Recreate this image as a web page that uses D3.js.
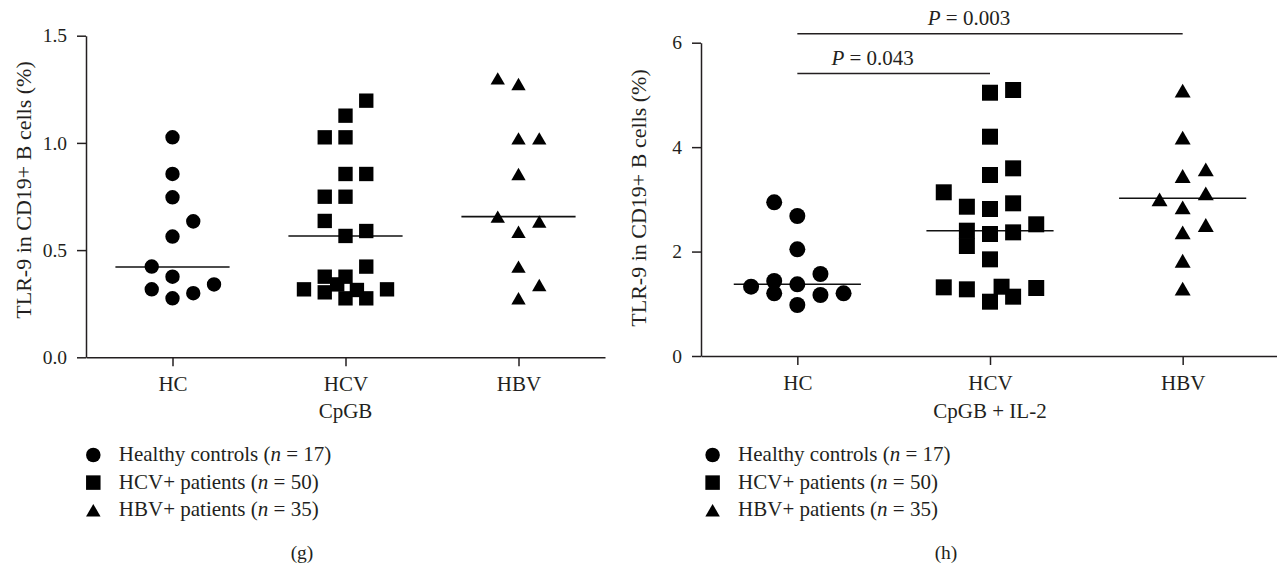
<!DOCTYPE html>
<html><head><meta charset="utf-8">
<script src="https://cdn.jsdelivr.net/npm/d3@7"></script>
<style>
body{margin:0;background:#fff;}
svg text{font-family:"Liberation Serif","Times New Roman",serif;fill:#231f20;}
</style></head><body>
<svg id="chart" width="1277" height="566"></svg>
<script>
// ---------- DATA ----------
const groups = ["HC", "HCV", "HBV"];
const legendNames = ["Healthy controls", "HCV+ patients", "HBV+ patients"];
const legendN = [17, 50, 35];

// Panel (g): CpGB
const gTicks = [0, 0.5, 1.0, 1.5];
const gHC     = [1.026, 0.855, 0.746, 0.634, 0.563, 0.423, 0.376, 0.317, 0.275, 0.299, 0.340];
const gHCslot = [0, 0, 0, 1, 0, -1, 0, -1, 0, 1, 2];
const gHCV     = [1.197, 1.127, 1.026, 1.026, 0.855, 0.855, 0.749, 0.749, 0.636, 0.566, 0.589, 0.423, 0.376, 0.376, 0.303, 0.340, 0.314, 0.275, 0.275, 0.317, 0.317];
const gHCVslot = [1, 0, -1, 0, 0, 1, -1, 0, -1, 0, 1, 1, -1, 0, -1, -0.4, 0.55, 0, 1, 2, -2];
const gHBV     = [1.301, 1.275, 1.021, 1.021, 0.855, 0.656, 0.633, 0.586, 0.423, 0.337, 0.275];
const gHBVslot = [-1, 0, 0, 1, 0, -1, 1, 0, 0, 1, 0];
const gMedians = [0.421, 0.566, 0.656];

// Panel (h): CpGB + IL-2
const hTicks = [0, 2, 4, 6];
const hHC     = [2.943, 2.681, 2.043, 1.570, 1.436, 1.327, 1.373, 1.200, 1.168, 1.200, 0.977];
const hHCslot = [-1, 0, 0, 1, -1, -2, 0, -1, 1, 2, 0];
const hHCV     = [5.042, 5.094, 4.200, 3.466, 3.594, 3.135, 2.859, 2.815, 2.924, 2.522, 2.400, 2.336, 2.368, 2.106, 1.851, 1.315, 1.277, 1.327, 1.136, 1.040, 1.302];
const hHCVslot = [0, 1, 0, 0, 1, -2, -1, 0, 1, 2, -1, 0, 1, -1, 0, -2, -1, 0.5, 1, 0, 2];
const hHBV     = [5.081, 4.181, 3.447, 3.575, 3.000, 3.115, 2.847, 2.509, 2.368, 1.825, 1.289];
const hHBVslot = [0, 0, 0, 1, -1, 1, 0, 1, 0, 0, 0];
const hMedians = [1.373, 2.400, 3.020];
const hCompFrom = ["HC", "HC"];
const hCompTo = ["HCV", "HBV"];
const hCompLevel = [5.41, 6.17];
const hCompP = ["0.043", "0.003"];

// ---------- DRAW ----------
const svg = d3.select("#chart");
const shapes = [d3.symbolCircle, d3.symbolSquare, d3.symbolTriangle];
function area(shape, d) {
  if (shape === d3.symbolCircle) return Math.PI * d * d / 4;
  if (shape === d3.symbolSquare) return d * d;
  return Math.sqrt(3) / 4 * d * d;
}
function shapeDy(shape, d) { return shape === d3.symbolTriangle ? (Math.sqrt(3) / 2 * d) / 6 : 0; }

function panel(cfg) {
  const x = d3.scalePoint().domain(groups).range(cfg.xr).padding(0.5);
  const y = d3.scaleLinear().domain(cfg.ydom).range(cfg.yr);
  const step = x.step();
  const g = svg.append("g");

  // axes
  const ya = g.append("g").attr("transform", `translate(${cfg.xr[0]},0)`)
    .call(d3.axisLeft(y).tickValues(cfg.ticks).tickFormat(cfg.fmt).tickSize(9).tickPadding(10).tickSizeOuter(0));
  ya.select(".domain").attr("stroke", "#231f20").attr("stroke-width", 1.5);
  ya.selectAll(".tick line").attr("stroke", "#231f20").attr("stroke-width", 1.5);
  ya.selectAll(".tick text").style("font-size", "19.5px").attr("fill", "#231f20").attr("font-family", null);

  const xa = g.append("g").attr("transform", `translate(0,${cfg.yr[0]})`)
    .call(d3.axisBottom(x).tickSize(9).tickPadding(10).tickSizeOuter(0));
  xa.select(".domain").attr("stroke", "#231f20").attr("stroke-width", 1.5);
  xa.selectAll(".tick line").attr("stroke", "#231f20").attr("stroke-width", 1.5);
  xa.selectAll(".tick text").style("font-size", "21px").attr("fill", "#231f20").attr("font-family", null);

  // axis titles
  g.append("text").attr("transform", `translate(${cfg.xr[0] - 63},${cfg.ylabY}) rotate(-90)`)
    .attr("text-anchor", "middle").attr("dy", "0.35em").style("font-size", "22px")
    .text("TLR-9 in CD19+ B cells (%)");
  g.append("text").attr("x", x(groups[1])).attr("y", 418).attr("text-anchor", "middle")
    .style("font-size", "21px").text(cfg.xlabel);

  // medians
  g.selectAll("line.med").data(cfg.medians).join("line").attr("class", "med")
    .attr("x1", (d, i) => x(groups[i]) - step * 0.33).attr("x2", (d, i) => x(groups[i]) + step * 0.33)
    .attr("y1", d => y(d)).attr("y2", d => y(d)).attr("stroke", "#111").attr("stroke-width", 1.6);

  // points
  const slotW = step * 0.12, mk = step * 0.083;
  cfg.series.forEach((s, gi) => {
    const shape = shapes[gi];
    const sym = d3.symbol().type(shape).size(area(shape, mk));
    const dy = shapeDy(shape, mk);
    g.append("g").selectAll("path").data(s.v.map((v, i) => ({ v, slot: s.slot[i] }))).join("path")
      .attr("d", sym)
      .attr("transform", d => `translate(${x(groups[gi]) + d.slot * slotW},${y(d.v) + dy})`)
      .attr("fill", "#000");
  });

  // comparisons
  (cfg.comps || []).forEach(c => {
    const x1 = x(c.from), x2 = x(c.to), yy = y(c.level);
    g.append("line").attr("x1", x1).attr("x2", x2).attr("y1", yy).attr("y2", yy)
      .attr("stroke", "#231f20").attr("stroke-width", 1.5);
    const t = g.append("text").attr("x", (x1 + x2) / 2 - 21).attr("y", yy - 9)
      .attr("text-anchor", "middle").style("font-size", "21px");
    t.append("tspan").attr("font-style", "italic").text("P");
    t.append("tspan").text(" = " + c.p);
  });

  // legend
  legendNames.forEach((name, i) => {
    const ly = 455 + i * 27.6;
    const shape = shapes[i], d = 14.5;
    g.append("path").attr("d", d3.symbol().type(shape).size(area(shape, d)))
      .attr("transform", `translate(${cfg.legX},${ly + shapeDy(shape, d)})`).attr("fill", "#000");
    const t = g.append("text").attr("x", cfg.legX + 25.5).attr("y", ly + 6).style("font-size", "21px");
    t.append("tspan").text(name + " (");
    t.append("tspan").attr("font-style", "italic").text("n");
    t.append("tspan").text(" = " + legendN[i] + ")");
  });

  g.append("text").attr("x", cfg.capX).attr("y", 559).attr("text-anchor", "middle")
    .style("font-size", "19.5px").text(cfg.caption);
}

panel({
  xr: [86, 605], yr: [357.3, 35.7], ydom: [0, 1.5], ticks: gTicks, fmt: d3.format(".1f"),
  ylabY: 190, xlabel: "CpGB", medians: gMedians,
  series: [{ v: gHC, slot: gHCslot }, { v: gHCV, slot: gHCVslot }, { v: gHBV, slot: gHBVslot }],
  legX: 93.3, capX: 302, caption: "(g)"
});
panel({
  xr: [701, 1279], yr: [356, 42.7], ydom: [0, 6], ticks: hTicks, fmt: d3.format("d"),
  ylabY: 198, xlabel: "CpGB + IL-2", medians: hMedians,
  series: [{ v: hHC, slot: hHCslot }, { v: hHCV, slot: hHCVslot }, { v: hHBV, slot: hHBVslot }],
  comps: hCompFrom.map((f, i) => ({ from: f, to: hCompTo[i], level: hCompLevel[i], p: hCompP[i] })),
  legX: 712.6, capX: 946, caption: "(h)"
});
</script>
</body></html>
